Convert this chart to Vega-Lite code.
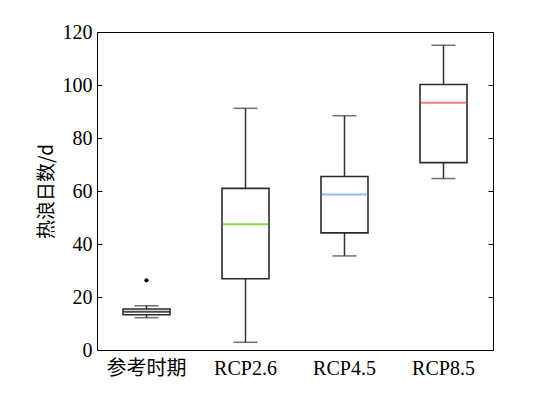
{
  "$schema": "https://vega.github.io/schema/vega-lite/v6.json",
  "autosize": "none",
  "width": 396,
  "height": 318,
  "padding": {"left": 97, "top": 32, "right": 57, "bottom": 45},
  "background": "white",
  "config": {
    "view": {"stroke": "black", "strokeWidth": 1},
    "font": "'Liberation Serif', 'Noto Sans CJK SC'"
  },
  "datasets": {
    "stats": [
      {"period": "参考时期", "lower": 12.2, "q1": 13.3, "median": 14.4, "q3": 15.5, "upper": 16.7},
      {"period": "RCP2.6", "lower": 2.9, "q1": 26.9, "median": 47.5, "q3": 61.0, "upper": 91.2},
      {"period": "RCP4.5", "lower": 35.5, "q1": 44.2, "median": 58.7, "q3": 65.5, "upper": 88.4},
      {"period": "RCP8.5", "lower": 64.7, "q1": 70.7, "median": 93.3, "q3": 100.2, "upper": 115.0}
    ],
    "outliers": [
      {"period": "参考时期", "value": 26.3}
    ]
  },
  "resolve": {"axis": {"y": "independent"}},
  "layer": [
    {
      "data": {"name": "stats"},
      "mark": {"type": "rule", "color": "#333333", "strokeWidth": 1.5},
      "encoding": {
        "x": {"field": "period", "type": "nominal", "sort": null,
          "axis": {"title": null, "ticks": false, "domain": false, "labelAngle": 0, "labelFont": "'Liberation Serif', 'Noto Sans CJK SC'", "labelFontSize": 20, "labelColor": "black", "labelPadding": 8}},
        "y": {"field": "lower", "type": "quantitative",
          "scale": {"domain": [0, 120], "nice": false, "zero": false},
          "axis": {"title": "热浪日数/d", "orient": "left", "values": [0, 20, 40, 60, 80, 100, 120], "grid": false, "domain": false, "tickSize": -5, "tickColor": "black", "labelPadding": 10, "labelFont": "'Liberation Serif'", "labelFontSize": 20, "labelColor": "black", "titleFont": "'Noto Sans CJK SC'", "titleFontSize": 19, "titleFontWeight": "normal", "titleColor": "black", "titlePadding": 6}},
        "y2": {"field": "upper"}
      }
    },
    {
      "data": {"name": "stats"},
      "mark": {"type": "bar", "fill": "white", "stroke": "#2b2b2b", "strokeWidth": 1.6, "size": 47},
      "encoding": {
        "x": {"field": "period", "type": "nominal", "sort": null},
        "y": {"field": "q1", "type": "quantitative",
          "axis": {"orient": "right", "title": null, "labels": false, "values": [0, 20, 40, 60, 80, 100, 120], "grid": false, "domain": false, "tickSize": -5, "tickColor": "black"}},
        "y2": {"field": "q3"}
      }
    },
    {
      "data": {"name": "stats"},
      "mark": {"type": "tick", "size": 46, "thickness": 2},
      "encoding": {
        "x": {"field": "period", "type": "nominal", "sort": null},
        "y": {"field": "median", "type": "quantitative", "axis": null},
        "color": {"field": "period", "type": "nominal", "legend": null,
          "scale": {"domain": ["参考时期", "RCP2.6", "RCP4.5", "RCP8.5"], "range": ["#000000", "#5fc800", "#6a96ff", "#f24848"]}}
      }
    },
    {
      "data": {"name": "stats"},
      "mark": {"type": "tick", "size": 24, "thickness": 1.5, "color": "#333333"},
      "encoding": {
        "x": {"field": "period", "type": "nominal", "sort": null},
        "y": {"field": "lower", "type": "quantitative", "axis": null}
      }
    },
    {
      "data": {"name": "stats"},
      "mark": {"type": "tick", "size": 24, "thickness": 1.5, "color": "#333333"},
      "encoding": {
        "x": {"field": "period", "type": "nominal", "sort": null},
        "y": {"field": "upper", "type": "quantitative", "axis": null}
      }
    },
    {
      "data": {"name": "outliers"},
      "mark": {"type": "point", "shape": "circle", "filled": true, "color": "black", "size": 18, "opacity": 1},
      "encoding": {
        "x": {"field": "period", "type": "nominal", "sort": null},
        "y": {"field": "value", "type": "quantitative", "axis": null}
      }
    }
  ]
}
